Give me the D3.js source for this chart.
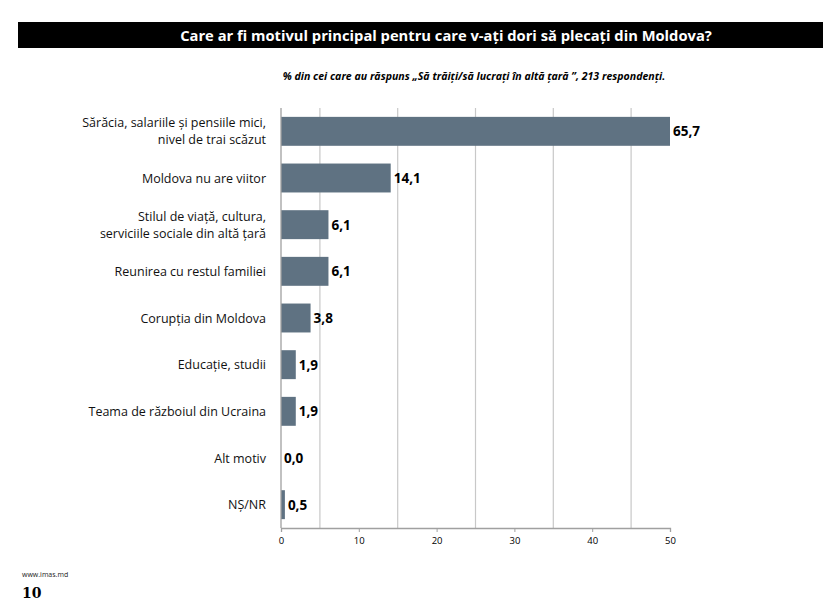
<!DOCTYPE html>
<html><head><meta charset="utf-8">
<script src="https://cdn.jsdelivr.net/npm/d3@7/dist/d3.min.js"></script>
<style>body{margin:0;background:#fff}svg{display:block}</style>
</head><body>
<svg id="c" width="837" height="605"></svg>
<script>
const categories = [
  ["Sărăcia, salariile și pensiile mici,", "nivel de trai scăzut"],
  ["Moldova nu are viitor"],
  ["Stilul de viață, cultura,", "serviciile sociale din altă țară"],
  ["Reunirea cu restul familiei"],
  ["Corupția din Moldova"],
  ["Educație, studii"],
  ["Teama de războiul din Ucraina"],
  ["Alt motiv"],
  ["NȘ/NR"]
];
const values = [65.7, 14.1, 6.1, 6.1, 3.8, 1.9, 1.9, 0.0, 0.5];
const tickValues = [0, 10, 20, 30, 40, 50];
const gridValues = [5, 15, 25, 35, 45];
const title = "Care ar fi motivul principal pentru care v-ați dori să plecați din Moldova?";
const subtitle = "% din cei care au răspuns „Să trăiți/să lucrați în altă țară ”, 213 respondenți.";

const svg = d3.select("#c");
const font = "'Open Sans', 'Noto Sans', sans-serif";

function fitText(sel, target) {
  const w = sel.node().getComputedTextLength();
  const fs = parseFloat(sel.attr("font-size"));
  sel.attr("font-size", (fs * target / w).toFixed(2));
}

// title bar
svg.append("rect").attr("x", 18).attr("y", 22).attr("width", 805).attr("height", 26).attr("fill", "#000");
const t = svg.append("text").attr("x", 446).attr("y", 41).attr("text-anchor", "middle")
  .attr("fill", "#fff").attr("font-family", font).attr("font-weight", "bold").attr("font-size", 15).text(title);
fitText(t, 532);

const st = svg.append("text").attr("x", 474).attr("y", 80).attr("text-anchor", "middle")
  .attr("fill", "#000").attr("font-family", font).attr("font-weight", "bold").attr("font-style", "italic")
  .attr("font-size", 10).text(subtitle);
fitText(st, 383);

const x = d3.scaleLinear().domain([0, 50]).range([281, 670]);
const y = d3.scaleBand().domain(d3.range(categories.length)).range([108, 528]).paddingInner(0.38).paddingOuter(0.19);

// gridlines
svg.append("g").selectAll("line").data(gridValues).join("line")
  .attr("x1", d => x(d)).attr("x2", d => x(d)).attr("y1", 108).attr("y2", 528)
  .attr("stroke", "#c8c8c8").attr("stroke-width", 1.2);

// bars
svg.append("g").selectAll("rect").data(values).join("rect")
  .attr("x", x(0)).attr("y", (d, i) => y(i)).attr("height", y.bandwidth())
  .attr("width", d => x(Math.min(d, 50)) - x(0)).attr("fill", "#5f7282");

// value labels
svg.append("g").selectAll("text").data(values).join("text")
  .attr("x", d => x(Math.min(d, 50)) + 3).attr("y", (d, i) => y(i) + y.bandwidth() / 2 + 5)
  .attr("font-family", font).attr("font-weight", "bold").attr("font-size", 13.5).attr("fill", "#000")
  .text(d => d.toFixed(1).replace(".", ","));

// category labels
const cl = svg.append("g").selectAll("text").data(categories).join("text")
  .attr("text-anchor", "end").attr("font-family", font).attr("font-size", 12.5).attr("fill", "#111")
  .attr("y", (d, i) => y(i) + y.bandwidth() / 2 + 4.5 - (d.length - 1) * 8.5);
cl.selectAll("tspan").data(d => d).join("tspan").attr("x", 266).attr("dy", (d, j) => j ? 17 : 0).text(d => d);

// axes
const ax = d3.axisBottom(x).tickValues(tickValues).tickSize(4).tickFormat(d3.format("d"));
const axg = svg.append("g").attr("transform", "translate(0,528)").call(ax);
axg.select(".domain").attr("stroke", "#a0a0a0").attr("stroke-width", 1.3);
axg.selectAll(".tick line").attr("stroke", "#a0a0a0");
axg.selectAll(".tick text").attr("font-family", font).attr("font-size", 9.5).attr("fill", "#000").attr("dy", "0.95em");
svg.append("line").attr("x1", x(0)).attr("x2", x(0)).attr("y1", 108).attr("y2", 528)
  .attr("stroke", "#a0a0a0").attr("stroke-width", 1.3);

// footer
svg.append("text").attr("x", 22).attr("y", 577).attr("font-family", font).attr("font-size", 7).attr("fill", "#222").text("www.imas.md");
svg.append("text").attr("x", 22).attr("y", 598).attr("font-family", "'DejaVu Serif', serif").attr("font-weight", "bold").attr("font-size", 14).attr("fill", "#000").text("10");
</script>
</body></html>
